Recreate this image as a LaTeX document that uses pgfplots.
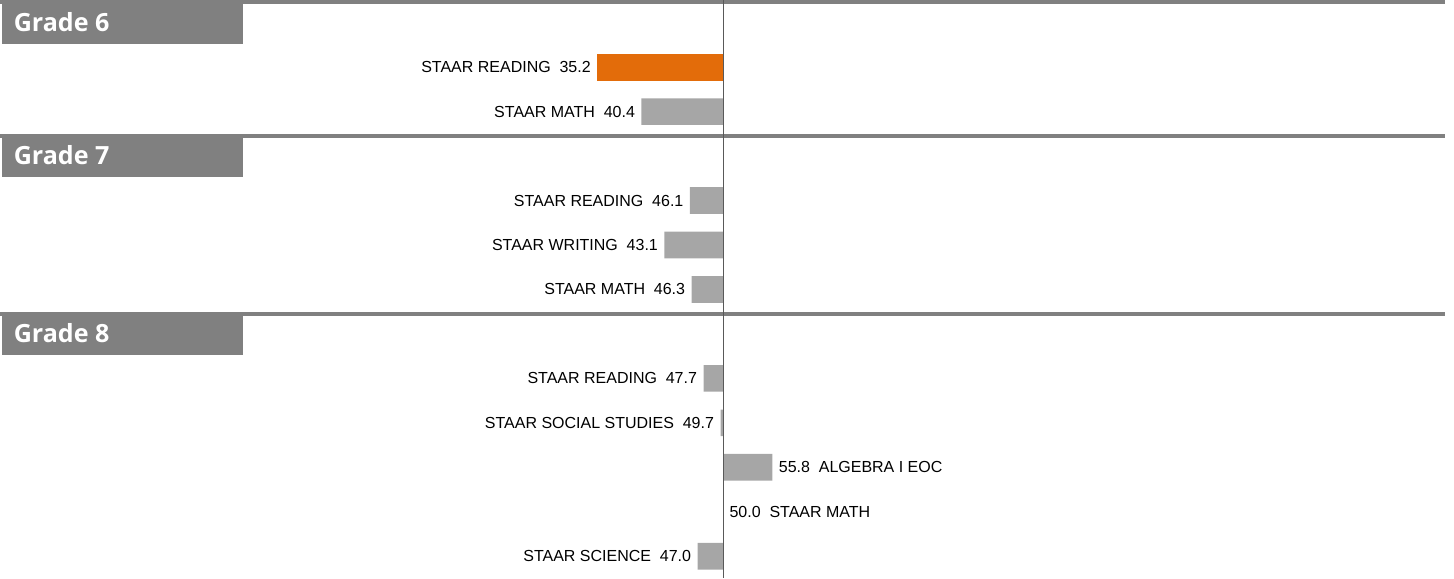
\documentclass[border=0pt]{standalone}
\usepackage{fontspec}
\setmainfont{Liberation Sans}
\newfontfamily\gradefont{Open Sans}
\usepackage{pgfplots}
\usepackage{pgfplotstable}
\pgfplotsset{compat=1.18}
\definecolor{hdrgray}{HTML}{808080}
\definecolor{bargray}{HTML}{A6A6A6}
\definecolor{barorange}{HTML}{E36C0A}
\definecolor{axisgray}{HTML}{595959}

% pos = vertical position (negative slot from the top), score = scale score (bars start at 50)
\pgfplotstableread[col sep=comma]{
pos,score,label
-1,35.2,STAAR READING
}\orangedata
\pgfplotstableread[col sep=comma]{
pos,score,label
-2,40.4,STAAR MATH
-4,46.1,STAAR READING
-5,43.1,STAAR WRITING
-6,46.3,STAAR MATH
-8,47.7,STAAR READING
-9,49.7,STAAR SOCIAL STUDIES
-12,47.0,STAAR SCIENCE
}\belowdata
\pgfplotstableread[col sep=comma]{
pos,score,label
-10,55.8,ALGEBRA I EOC
-11,50.0,STAAR MATH
}\abovedata

\newcommand{\scorefmt}[1]{\pgfmathprintnumber[fixed,fixed zerofill,precision=1,assume math mode=true]{#1}}

\begin{document}
\begin{tikzpicture}
\begin{axis}[
    scale only axis,
    width=545.25pt, height=216.75pt,
    xmin=-85.06, xmax=85.99,
    ymin=-12.5, ymax=0.5,
    axis lines=none, ticks=none,
    clip=false,
    xbar, bar shift=0pt, bar width=10pt,
    point meta=explicit symbolic,
    every node near coord/.append style={font=\fontsize{6}{7}\selectfont, text=black, inner sep=0pt},
]
\path (axis cs:-85.06,0.5) rectangle (axis cs:85.99,-12.5);

\addplot[fill=barorange, draw=none,
    visualization depends on={\thisrow{score} \as \sc},
    nodes near coords={\pgfplotspointmeta\hspace{0.55em}\scorefmt{\sc}},
    every node near coord/.append style={anchor=east, xshift=-2.25pt}]
    table[x expr=\thisrow{score}-50, y=pos, meta=label] {\orangedata};

\addplot[fill=bargray, draw=none,
    visualization depends on={\thisrow{score} \as \sc},
    nodes near coords={\pgfplotspointmeta\hspace{0.55em}\scorefmt{\sc}},
    every node near coord/.append style={anchor=east, xshift=-2.25pt}]
    table[x expr=\thisrow{score}-50, y=pos, meta=label] {\belowdata};

\addplot[fill=bargray, draw=none,
    visualization depends on={\thisrow{score} \as \sc},
    nodes near coords={\scorefmt{\sc}\hspace{0.55em}\pgfplotspointmeta},
    every node near coord/.append style={anchor=west, xshift=2.25pt}]
    table[x expr=\thisrow{score}-50, y=pos, meta=label] {\abovedata};

% grade header bands
\fill[hdrgray] (axis cs:-85.06,0.5) rectangle (axis cs:84.94,0.41);
\fill[hdrgray] (axis cs:-84.82,0.5) rectangle (axis cs:-56.47,-0.47);
\node[anchor=west, inner sep=0pt, text=white, font=\gradefont\bfseries\fontsize{9.4}{10}\selectfont]
    at (axis cs:-83.5,0.02) {Grade 6};
\fill[hdrgray] (axis cs:-85.06,-2.5) rectangle (axis cs:84.94,-2.59);
\fill[hdrgray] (axis cs:-84.82,-2.5) rectangle (axis cs:-56.47,-3.47);
\node[anchor=west, inner sep=0pt, text=white, font=\gradefont\bfseries\fontsize{9.4}{10}\selectfont]
    at (axis cs:-83.5,-2.98) {Grade 7};
\fill[hdrgray] (axis cs:-85.06,-6.5) rectangle (axis cs:84.94,-6.59);
\fill[hdrgray] (axis cs:-84.82,-6.5) rectangle (axis cs:-56.47,-7.47);
\node[anchor=west, inner sep=0pt, text=white, font=\gradefont\bfseries\fontsize{9.4}{10}\selectfont]
    at (axis cs:-83.5,-6.98) {Grade 8};

\draw[axisgray, line width=0.375pt] (axis cs:0,0.5) -- (axis cs:0,-12.5);
\end{axis}
\end{tikzpicture}
\end{document}
